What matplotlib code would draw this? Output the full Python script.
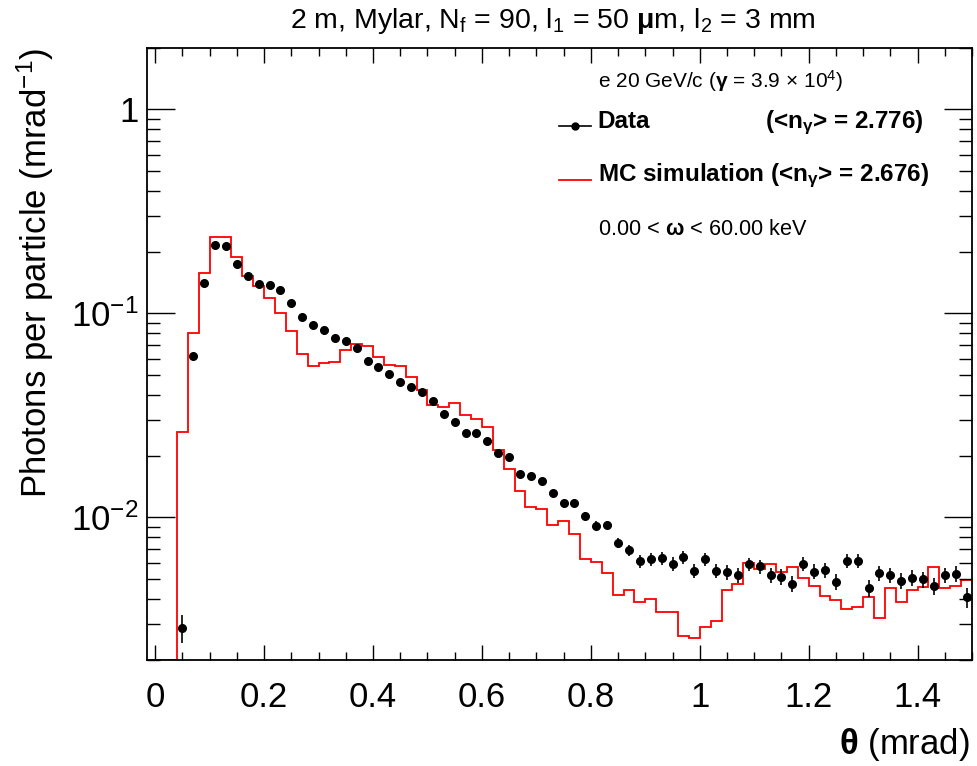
import numpy as np
import matplotlib
matplotlib.use('Agg')
import matplotlib.pyplot as plt
from matplotlib.lines import Line2D
from matplotlib.ticker import MultipleLocator, LogLocator, NullFormatter

plt.rcParams['font.family'] = ['Liberation Sans', 'DejaVu Sans']
plt.rcParams['mathtext.fontset'] = 'custom'
plt.rcParams['mathtext.rm'] = 'Liberation Sans'
plt.rcParams['mathtext.it'] = 'Liberation Sans:italic'
plt.rcParams['mathtext.bf'] = 'Liberation Sans:bold'

# data points (bin centres from 0.05 mrad, width 0.02 mrad)
bin_width = 0.02
data_first_center = 0.05
data_vals = [0.00288, 0.062, 0.1415, 0.216, 0.213, 0.175, 0.152, 0.140, 0.138, 0.130,
             0.113, 0.0955, 0.0873, 0.083, 0.0757, 0.0729, 0.0676, 0.0583, 0.0545, 0.0503,
             0.046, 0.0438, 0.0414, 0.0373, 0.0322, 0.0293, 0.0258, 0.0258, 0.0236, 0.0207,
             0.0197, 0.0163, 0.0159, 0.0151, 0.0131, 0.0117, 0.0117, 0.0102, 0.0091, 0.0092,
             0.0075, 0.0069, 0.0061, 0.00625, 0.0063, 0.00594, 0.00636, 0.00547, 0.00625, 0.00547,
             0.0054, 0.00523, 0.0059, 0.00575, 0.00523, 0.00513, 0.00474, 0.00594, 0.00543, 0.0055,
             0.00485, 0.00613, 0.00613, 0.0045, 0.00533, 0.00523, 0.00489, 0.00507, 0.00498, 0.00462,
             0.00523, 0.0053, 0.00405]
data_err = 0.00045

# MC histogram (bin edges from -0.02 mrad, width 0.02 mrad)
mc_first_edge = -0.02
mc_vals = [0, 0, 0,
           0.0261, 0.0804, 0.158, 0.237, 0.237, 0.189, 0.152, 0.136, 0.119, 0.1007,
           0.0819, 0.0633, 0.0551, 0.0572, 0.0581, 0.0664, 0.071, 0.0689, 0.061, 0.0557,
           0.0553, 0.0487, 0.0419, 0.0357, 0.0347, 0.0364, 0.0318, 0.0302, 0.0279, 0.0214,
           0.0173, 0.0135, 0.0113, 0.011, 0.0092, 0.00957, 0.00828, 0.00625, 0.00605, 0.00531,
           0.00415, 0.00442, 0.00387, 0.00398, 0.00344, 0.00344, 0.00262, 0.00256, 0.00289, 0.00309,
           0.00442, 0.00474, 0.00601, 0.00558, 0.00594, 0.00537, 0.00569, 0.00507, 0.00463, 0.0041,
           0.00393, 0.00356, 0.00363, 0.00405, 0.00323, 0.0045, 0.00386, 0.00442, 0.00457, 0.00571,
           0.0045, 0.00462, 0.00493]

xtick_vals = [0, 0.2, 0.4, 0.6, 0.8, 1.0, 1.2, 1.4]
xtick_labels = ['0', '0.2', '0.4', '0.6', '0.8', '1', '1.2', '1.4']
ytick_vals = [0.01, 0.1, 1]
ytick_labels = ['$10^{-2}$', '$10^{-1}$', '1']

ymin, ymax = 0.002, 2.0

centers = data_first_center + bin_width * np.arange(len(data_vals))
edges = mc_first_edge + bin_width * np.arange(len(mc_vals) + 1)
mc_plot = np.clip(np.array(mc_vals, dtype=float), ymin, None)

fig = plt.figure(figsize=(9.78, 7.66), dpi=100)
ax = fig.add_axes([0.1503, 0.1384, 0.8436, 0.7989])

ax.stairs(mc_plot, edges, color='red', lw=1.3, baseline=None)
ax.errorbar(centers, data_vals, yerr=data_err, fmt='o', color='black', ms=5.5,
            elinewidth=1.2, capsize=0)

ax.set_yscale('log')
ax.set_xlim(-0.015, 1.5)
ax.set_ylim(ymin, ymax)
ax.set_xticks(xtick_vals)
ax.set_xticklabels(xtick_labels)
ax.xaxis.set_minor_locator(MultipleLocator(0.05))
ax.set_yticks(ytick_vals)
ax.set_yticklabels(ytick_labels)
ax.yaxis.set_minor_locator(LogLocator(base=10, subs=range(2, 10)))
ax.yaxis.set_minor_formatter(NullFormatter())

ax.tick_params(which='both', direction='in', top=True, right=True, width=1.0, labelsize=25)
ax.tick_params(axis='x', which='major', length=11, pad=15)
ax.tick_params(axis='x', which='minor', length=5.5)
ax.tick_params(axis='y', which='major', length=20, pad=6)
ax.tick_params(axis='y', which='minor', length=9.5)
for s in ax.spines.values():
    s.set_linewidth(1.3)

fig.text(0.565, 0.972, r'2 m, Mylar, N$_\mathrm{f}$ = 90, l$_\mathrm{1}$ = 50 $\mathbf{μ}$m, l$_\mathrm{2}$ = 3 mm',
         ha='center', va='center', fontsize=20.5)
fig.text(0.036, 0.644, r'Photons per particle (mrad$^{-1}$)', rotation=90,
         ha='center', va='center', fontsize=25)
fig.text(0.992, 0.004, r'$\mathbf{θ}$ (mrad)', ha='right', va='bottom', fontsize=25)

# legend
fig.text(0.611, 0.885, r'e 20 GeV/c ($\mathbf{γ}$ = 3.9 × 10$^{4}$)', ha='left', va='baseline', fontsize=15)
fig.text(0.611, 0.833, 'Data', ha='left', va='baseline', fontsize=17.5, fontweight='bold')
fig.text(0.944, 0.833, r'(<n$_{\mathbf{γ}}$> = 2.776)', ha='right', va='baseline',
         fontsize=17.5, fontweight='bold')
fig.text(0.611, 0.763, r'MC simulation (<n$_{\mathbf{γ}}$> = 2.676)', ha='left', va='baseline',
         fontsize=17.5, fontweight='bold')
fig.text(0.611, 0.693, r'0.00 < $\mathbf{ω}$ < 60.00 keV', ha='left', va='baseline', fontsize=15.7)

fig.add_artist(Line2D([0.5716, 0.6043], [0.8355, 0.8355], color='black', lw=1.2))
fig.add_artist(Line2D([0.588], [0.8355], color='black', marker='o', ms=5))
fig.add_artist(Line2D([0.5716, 0.6043], [0.765, 0.765], color='red', lw=1.3))

fig.savefig('out.png', dpi=100)
